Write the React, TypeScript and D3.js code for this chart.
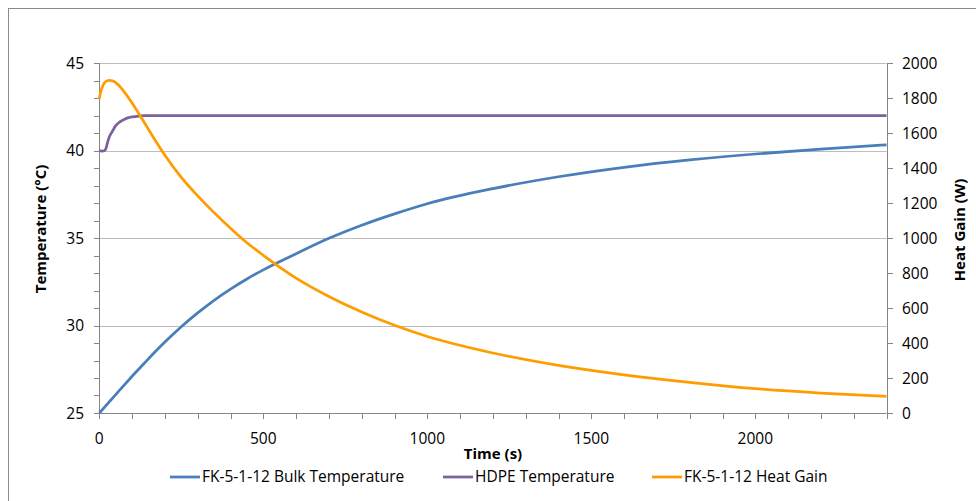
import React from "react";
import * as d3 from "d3";

// time in seconds, shared by all three series
const times = [0, 5, 10, 15, 20, 25, 30, 40, 50, 60, 70, 80, 90, 100, 120, 140, 160, 200, 250, 300, 350, 400, 450, 500, 600, 700, 800, 900, 1000, 1200, 1400, 1600, 1800, 2000, 2200, 2400];

// FK-5-1-12 bulk temperature (°C), left axis
const bulkTemp = [25, 25.1, 25.21, 25.31, 25.42, 25.52, 25.63, 25.84, 26.05, 26.26, 26.47, 26.68, 26.89, 27.1, 27.5, 27.9, 28.3, 29.06, 29.93, 30.72, 31.44, 32.08, 32.66, 33.18, 34.1, 34.98, 35.73, 36.38, 36.96, 37.82, 38.5, 39.04, 39.46, 39.8, 40.08, 40.32];

// HDPE temperature (°C), left axis
const hdpeTemp = [40, 39.98, 39.97, 39.99, 40.1, 40.45, 40.75, 41.1, 41.42, 41.6, 41.72, 41.82, 41.88, 41.92, 41.97, 41.99, 42, 42, 42, 42, 42, 42, 42, 42, 42, 42, 42, 42, 42, 42, 42, 42, 42, 42, 42, 42];

// FK-5-1-12 heat gain (W), right axis
const heatGain = [1795, 1840, 1866, 1884, 1894, 1899, 1901, 1898, 1888, 1871, 1849, 1825, 1799, 1771, 1712, 1651, 1590, 1473, 1347, 1241, 1145, 1056, 973, 901, 771, 666, 577, 501, 437, 343, 272, 218, 175, 139, 114, 95];

const xMajor = [0, 500, 1000, 1500, 2000];
const tempTicks = [25, 30, 35, 40, 45];
const heatTicks = [0, 200, 400, 600, 800, 1000, 1200, 1400, 1600, 1800, 2000];

const legendItems = ["FK-5-1-12 Bulk Temperature", "HDPE Temperature", "FK-5-1-12 Heat Gain"];
const colors = ["#4A7EBB", "#7D60A0", "#FF9C00"];

const W = 976;
const H = 501;
const FONT = "'Open Sans', sans-serif";

export default function App() {
  const x = d3.scaleLinear().domain([0, 2400]).range([99.3, 886.5]);
  const yT = d3.scaleLinear().domain([25, 45]).range([413, 63]);
  const yW = d3.scaleLinear().domain([0, 2000]).range([413, 63]);

  const line = (vals: number[], y: d3.ScaleLinear<number, number>) =>
    d3
      .line<number>()
      .x((_, i) => x(times[i]))
      .y((d) => y(d))
      .curve(d3.curveMonotoneX)(vals) || "";

  const minorT = d3.range(25, 46, 1);
  const minorX = d3.range(0, 2401, 100);
  const axisColor = "#868686";
  const gridColor = "#BDBDBD";
  const x0 = x(0);
  const x1 = x(2400);
  const yBase = yT(25);

  const legendX = [170, 443, 652];

  return (
    <svg width={W} height={H} style={{ position: "absolute", left: 0, top: 0 }} fontFamily={FONT}>
      <rect x={0} y={0} width={W} height={H} fill="#fff" />
      <rect x={8.5} y={8.5} width={2000} height={2000} fill="none" stroke="#8a8a8a" strokeWidth={1} />

      {/* gridlines */}
      {tempTicks.slice(1).map((t) => (
        <line key={t} x1={x0} x2={x1} y1={Math.round(yT(t)) + 0.5} y2={Math.round(yT(t)) + 0.5} stroke={gridColor} />
      ))}

      {/* left axis */}
      <line x1={Math.round(x0) + 0.5} x2={Math.round(x0) + 0.5} y1={yT(45)} y2={yBase} stroke={axisColor} />
      {minorT.map((t) => (
        <line key={t} x1={Math.round(x0) - 5} x2={Math.round(x0) + 0.5} y1={Math.round(yT(t)) + 0.5} y2={Math.round(yT(t)) + 0.5} stroke={axisColor} />
      ))}
      {tempTicks.map((t) => (
        <text key={t} x={84} y={yT(t)} dy="0.36em" textAnchor="end" fontSize={15.5} fill="#000">
          {t}
        </text>
      ))}

      {/* right axis */}
      <line x1={Math.round(x1) + 0.5} x2={Math.round(x1) + 0.5} y1={yW(2000)} y2={yBase} stroke={axisColor} />
      {heatTicks.map((t) => (
        <g key={t}>
          <line x1={Math.round(x1) + 0.5} x2={Math.round(x1) + 6} y1={Math.round(yW(t)) + 0.5} y2={Math.round(yW(t)) + 0.5} stroke={axisColor} />
          <text x={902} y={yW(t)} dy="0.36em" textAnchor="start" fontSize={15.5} fill="#000">
            {t}
          </text>
        </g>
      ))}

      {/* x axis */}
      <line x1={x0} x2={x1} y1={Math.round(yBase) + 0.5} y2={Math.round(yBase) + 0.5} stroke={axisColor} />
      {minorX.map((t) => (
        <line key={t} x1={Math.round(x(t)) + 0.5} x2={Math.round(x(t)) + 0.5} y1={yBase} y2={yBase + 6} stroke={axisColor} />
      ))}
      {xMajor.map((t) => (
        <text key={t} x={x(t)} y={443.5} textAnchor="middle" fontSize={15.5} fill="#000">
          {t}
        </text>
      ))}

      {/* series */}
      <path d={line(bulkTemp, yT)} fill="none" stroke={colors[0]} strokeWidth={2.75} strokeLinejoin="round" />
      <path d={line(hdpeTemp, yT)} fill="none" stroke={colors[1]} strokeWidth={2.75} strokeLinejoin="round" />
      <path d={line(heatGain, yW)} fill="none" stroke={colors[2]} strokeWidth={2.75} strokeLinejoin="round" />

      {/* axis titles */}
      <text transform={`translate(46,229) rotate(-90)`} textAnchor="middle" fontSize={15} fontWeight="bold" fill="#000">
        Temperature (°C)
      </text>
      <text transform={`translate(965,230) rotate(-90)`} textAnchor="middle" fontSize={15} fontWeight="bold" fill="#000">
        Heat Gain (W)
      </text>
      <text x={493} y={459} textAnchor="middle" fontSize={15} fontWeight="bold" fill="#000">
        Time (s)
      </text>

      {/* legend */}
      {legendItems.map((name, i) => (
        <g key={name}>
          <line x1={legendX[i]} x2={legendX[i] + 30} y1={477} y2={477} stroke={colors[i]} strokeWidth={2.75} />
          <text x={legendX[i] + 32} y={482} fontSize={15.5} fill="#000">
            {name}
          </text>
        </g>
      ))}
    </svg>
  );
}
